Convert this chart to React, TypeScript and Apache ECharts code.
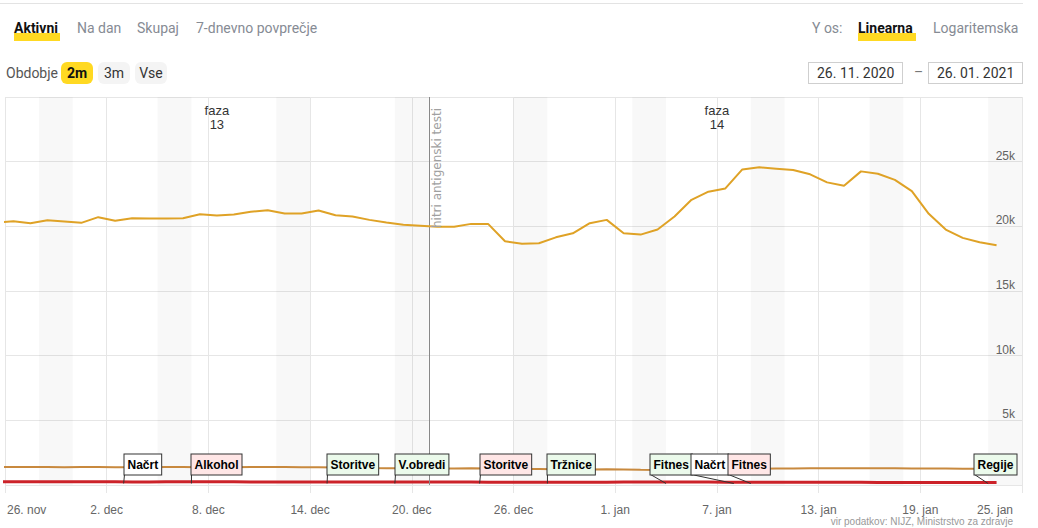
import React, { useEffect, useRef } from "react";
import * as echarts from "echarts";

// ---------------- DATA ----------------
// x = days since 26. 11. 2020 (00:00); points are at noon, first one on 25. 11.
const X_TICK_LABELS = ["26. nov", "2. dec", "8. dec", "14. dec", "20. dec", "26. dec", "1. jan", "7. jan", "13. jan", "19. jan", "25. jan"];
const Y_TICK_LABELS = ["", "5k", "10k", "15k", "20k", "25k", ""];

const AKTIVNI = [
  20300, 20400, 20240, 20470, 20370, 20270, 20710, 20430, 20630, 20600, 20600,
  20630, 20940, 20840, 20910, 21120, 21250, 20990, 20990, 21220, 20860,
  20760, 20500, 20300, 20120, 20040, 19960, 19960, 20190, 20190, 18850,
  18650, 18690, 19150, 19460, 20240, 20500, 19460, 19360, 19750, 20760,
  22050, 22680, 22930, 24400, 24560, 24460, 24350, 24020, 23400, 23140,
  24250, 24070, 23590, 22720, 20970, 19750, 19110, 18770, 18540,
];
const BOLNISNICA = [
  1390, 1390, 1400, 1395, 1380, 1385, 1390, 1375, 1370, 1380, 1385,
  1390, 1380, 1370, 1375, 1385, 1395, 1390, 1380, 1365, 1350,
  1330, 1310, 1300, 1290, 1280, 1270, 1280, 1290, 1270, 1250,
  1240, 1230, 1220, 1210, 1200, 1210, 1190, 1170, 1160, 1180,
  1200, 1220, 1240, 1250, 1260, 1270, 1280, 1290, 1295, 1300,
  1300, 1295, 1290, 1285, 1280, 1270, 1260, 1250, 1240,
];
const INTENZIVNA = [
  245, 245, 250, 248, 252, 255, 250, 245, 240, 238, 242,
  245, 248, 250, 246, 240, 238, 235, 233, 230, 228,
  226, 230, 232, 235, 233, 230, 228, 225, 222, 220,
  218, 216, 215, 218, 220, 222, 224, 226, 228, 230,
  225, 223, 220, 218, 215, 212, 210, 208, 206, 205,
  203, 200, 198, 196, 195, 193, 190, 188, 186,
];

const WEEKEND_START = [2, 9, 16, 23, 30, 37, 44, 51, 58];
const PHASES = [
  { name: "faza\n13", from: 0, to: 25 },
  { name: "faza\n14", from: 25, to: 59 },
];
const EVENT_DAY = 25;
const EVENT_LABEL = "hitri antigenski testi";

const ANNOT_DAY = [7, 11, 19, 23, 28, 32, 39, 43, 44, 58];
const ANNOT_TEXT = ["Načrt", "Alkohol", "Storitve", "V.obredi", "Storitve", "Tržnice", "Fitnes", "Načrt", "Fitnes", "Regije"];
const ANNOT_KIND = ["n", "t", "r", "r", "t", "r", "r", "n", "t", "r"];

// ---------------- STYLE / LAYOUT ----------------
const ANNOT_DX = [0, 0, 0, 0, 0, 0, -16, -43, -23, -14];
const ANNOT_FILL: Record<string, string> = { n: "#ffffff", t: "#ffe6e6", r: "#ebfaeb" };
const GRID_COLOR = "#e6e6e6";
const AXIS_FONT = "Liberation Sans";
const HEADER_FONT = "Roboto, 'Noto Sans', sans-serif";

function buildOption() {
  const xy = (arr: number[]) => arr.map((v, i) => [i - 0.5, v]);
  const labelStyle = { color: "#666", fontSize: 12, fontFamily: AXIS_FONT };
  return {
    animation: false,
    grid: { left: 5, right: 16, top: 97, bottom: 43, containLabel: false, outerBoundsMode: "none" },
    xAxis: {
      type: "value",
      min: 0,
      max: 60,
      interval: 6,
      axisLine: { show: false },
      axisTick: { show: true, length: 8, lineStyle: { color: GRID_COLOR } },
      splitLine: { show: true, lineStyle: { color: GRID_COLOR, width: 1 } },
      axisLabel: {
        ...labelStyle,
        margin: 19,
        alignMinLabel: "left",
        alignMaxLabel: "right",
        formatter: (v: number) => {
          const i = Math.round(v / 6);
          const s = X_TICK_LABELS[i] ?? "";
          if (i === 0) return "{l|" + s + "}";
          if (i === X_TICK_LABELS.length - 1) return "{r|" + s + "}";
          return s;
        },
        rich: {
          l: { ...labelStyle, padding: [0, 0, 0, 2] },
          r: { ...labelStyle, padding: [0, 9, 0, 0] },
        },
      },
    },
    yAxis: {
      type: "value",
      position: "right",
      min: 0,
      max: 30000,
      interval: 5000,
      axisLine: { show: false },
      axisTick: { show: false },
      splitLine: { show: true, lineStyle: { color: GRID_COLOR, width: 1 } },
      axisLabel: {
        ...labelStyle,
        inside: true,
        margin: 7,
        verticalAlign: "bottom",
        showMinLabel: false,
        showMaxLabel: false,
        formatter: (v: number) => Y_TICK_LABELS[Math.round(v / 5000)] ?? "",
      },
    },
    series: [
      {
        name: "Bolnišnica",
        type: "line",
        data: xy(BOLNISNICA),
        symbol: "none",
        lineStyle: { color: "#c8893e", width: 2 },
        z: 3,
        markArea: {
          silent: true,
          itemStyle: { color: "rgba(0,0,0,0.028)" },
          data: WEEKEND_START.map((d) => [{ xAxis: d }, { xAxis: d + 2 }]),
        },
      },
      {
        name: "Intenzivna nega",
        type: "line",
        data: xy(INTENZIVNA),
        symbol: "none",
        lineStyle: { color: "#cc2229", width: 3 },
        z: 4,
        markArea: {
          silent: true,
          itemStyle: { color: "rgba(0,0,0,0)" },
          label: {
            show: true,
            position: "insideTop",
            distance: 6,
            color: "#333",
            fontSize: 13,
            lineHeight: 14,
            fontFamily: AXIS_FONT,
          },
          data: PHASES.map((p) => [{ xAxis: p.from, name: p.name }, { xAxis: p.to }]),
        },
      },
      {
        name: "Aktivni",
        type: "line",
        data: xy(AKTIVNI),
        symbol: "none",
        lineStyle: { color: "#dfa226", width: 2 },
        z: 5,
        markLine: {
          silent: true,
          symbol: ["none", "none"],
          lineStyle: { color: "#888", width: 1, type: "solid" },
          label: { show: false },
          data: [{ xAxis: EVENT_DAY }],
        },
      },
      {
        name: "Ukrepi",
        type: "custom",
        z: 10,
        clip: false,
        data: ANNOT_DAY.map((d, i) => [d, 0, i]),
        encode: { x: 0, y: 1 },
        renderItem: (params: any, api: any) => {
          const i = api.value(2);
          const p = api.coord([api.value(0), 0]);
          const ax = p[0];
          const ay = p[1];
          const bx = Math.round(ax + ANNOT_DX[i]) + 0.5;
          const by = Math.round(ay - 11) + 0.5;
          return {
            type: "group",
            children: [
              {
                type: "line",
                shape: { x1: bx, y1: by, x2: ax, y2: ay - 1.5 },
                style: { stroke: "#333", lineWidth: 1 },
              },
              {
                type: "text",
                x: bx,
                y: by,
                style: {
                  text: ANNOT_TEXT[i],
                  align: "left",
                  verticalAlign: "bottom",
                  font: 'bold 12px "Liberation Sans"',
                  fill: "#000",
                  backgroundColor: ANNOT_FILL[ANNOT_KIND[i]],
                  borderColor: "#333",
                  borderWidth: 1,
                  padding: [4, 3, 4, 3],
                  lineHeight: 12,
                },
              },
            ],
          };
        },
      },
    ],
  };
}

const abs = (s: React.CSSProperties): React.CSSProperties => ({ position: "absolute", ...s });

function Tab({ x, text, active, w }: { x: number; text: string; active?: boolean; w?: number }) {
  return (
    <>
      {active && <div style={abs({ left: x, top: 33, width: w, height: 8, background: "#ffd922" })} />}
      <div
        style={abs({
          left: x,
          top: 20,
          fontSize: 14,
          lineHeight: "16px",
          fontWeight: active ? 700 : 400,
          color: active ? "#111" : "#868b94",
          whiteSpace: "nowrap",
        })}
      >
        {text}
      </div>
    </>
  );
}

function Btn({ x, text, active }: { x: number; text: string; active?: boolean }) {
  return (
    <div
      style={abs({
        left: x,
        top: 62,
        width: 32,
        height: 22,
        borderRadius: 6,
        background: active ? "#ffd922" : "#f4f4f4",
        fontSize: 14,
        lineHeight: "22px",
        textAlign: "center",
        fontWeight: active ? 700 : 400,
        color: active ? "#111" : "#333",
      })}
    >
      {text}
    </div>
  );
}

function DateBox({ x, text }: { x: number; text: string }) {
  return (
    <div
      style={abs({
        left: x,
        top: 62,
        width: 95,
        height: 22,
        border: "1px solid #cfcfcf",
        fontSize: 14,
        lineHeight: "20px",
        paddingLeft: 8,
        boxSizing: "border-box",
        color: "#333",
        whiteSpace: "nowrap",
      })}
    >
      {text}
    </div>
  );
}

export default function App() {
  const ref = useRef<HTMLDivElement>(null);
  useEffect(() => {
    document.body.style.margin = "0";
    if (!ref.current) return;
    const chart = echarts.init(ref.current, null, { renderer: "svg" });
    chart.setOption(buildOption() as any);
    const top = chart.convertToPixel({ gridIndex: 0 }, [EVENT_DAY, 30000]) as number[];
    chart.setOption({
      graphic: [
        {
          type: "text",
          x: top[0] + 2,
          y: top[1] + 11,
          rotation: Math.PI / 2,
          silent: true,
          z: 20,
          style: {
            text: EVENT_LABEL,
            align: "right",
            verticalAlign: "top",
            font: '12px "DejaVu Sans"',
            fill: "#a0a0a0",
          },
        },
      ],
    });
    return () => chart.dispose();
  }, []);

  return (
    <div style={{ position: "relative", width: 1038, height: 528, overflow: "hidden", fontFamily: HEADER_FONT, background: "#fff" }}>
      <div ref={ref} style={abs({ left: 0, top: 0, width: 1038, height: 528 })} />
      <div style={abs({ left: 0, top: 3, width: 1023, height: 1, background: "#e3e3e3" })} />
      <Tab x={14} w={46} text="Aktivni" active />
      <Tab x={77} text="Na dan" />
      <Tab x={137} text="Skupaj" />
      <Tab x={196} text="7-dnevno povprečje" />
      <Tab x={812} text="Y os:" />
      <Tab x={858} w={58} text="Linearna" active />
      <Tab x={933} text="Logaritemska" />
      <div style={abs({ left: 6, top: 65, fontSize: 14, lineHeight: "16px", color: "#555" })}>Obdobje</div>
      <Btn x={61} text="2m" active />
      <Btn x={98} text="3m" />
      <Btn x={135} text="Vse" />
      <DateBox x={808} text="26. 11. 2020" />
      <div style={abs({ left: 914, top: 64, fontSize: 14, lineHeight: "16px", color: "#777" })}>–</div>
      <DateBox x={928} text="26. 01. 2021" />
      <div
        style={abs({
          right: 25,
          top: 516,
          fontSize: 10,
          lineHeight: "12px",
          color: "#999",
          fontFamily: "'Liberation Sans', Arial, sans-serif",
          whiteSpace: "nowrap",
        })}
      >
        vir podatkov: NIJZ, Ministrstvo za zdravje
      </div>
    </div>
  );
}
